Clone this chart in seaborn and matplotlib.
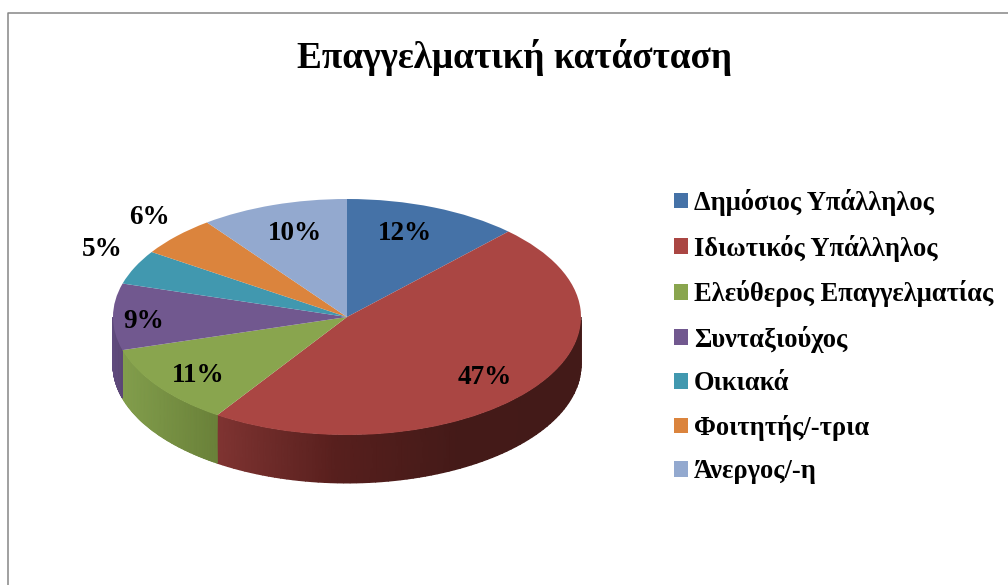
import matplotlib.pyplot as plt
import numpy as np
import seaborn as sns

sns.set_theme(style="white")
plt.rcParams['font.family'] = ['Liberation Serif', 'DejaVu Serif']

title = "Επαγγελματική κατάσταση"
categories = ["Δημόσιος Υπάλληλος", "Ιδιωτικός Υπάλληλος", "Ελεύθερος Επαγγελματίας",
              "Συνταξιούχος", "Οικιακά", "Φοιτητής/-τρια", "Άνεργος/-η"]
values = [12.1, 47.2, 11.1, 9.1, 4.7, 5.5, 10.2]
colors = ["#4572A7", "#AA4643", "#89A54E", "#71588F", "#4198AF", "#DB843D", "#93A9CF"]

# shades of the side wall from left to right, only the front slices show it
wall_shades = {1: ["#7f3432", "#571f1d", "#441a18", "#431a18"],
               2: ["#829e4c", "#6a8139"],
               3: ["#5f4a7d", "#5c4776"]}

# figure is laid out in pixels of the 1008x585 picture
W, H = 1008, 585
cx, cy, rx, ry, depth = 347, 317, 234, 118, 48


def px(x, y):
    return (x - cx) / rx, (cy - y) / ry


fig = plt.figure(figsize=(W / 100, H / 100), dpi=100)
ax = fig.add_axes([0, 0, 1, 1])

wedges, _ = ax.pie(values, colors=colors, startangle=90, counterclock=False,
                   radius=1, wedgeprops=dict(linewidth=0, zorder=3))
ax.set_aspect('auto')
ax.set_xlim(px(0, 0)[0], px(W, 0)[0])
ax.set_ylim(px(0, H)[1], px(0, 0)[1])

# side wall under the front half of the pie
edges = np.cumsum([0] + values) / sum(values) * 360
for i, (a, b) in enumerate(zip(edges[:-1], edges[1:])):
    if i not in wall_shades:
        continue
    a, b = max(a, 90), min(b, 270)
    t = np.radians(np.linspace(a, b, 80))
    x = np.sin(t)
    top = np.cos(t)
    X = np.vstack([x, x])
    Y = np.vstack([top, top - depth / ry])
    shade = (x - x.min()) / (x.max() - x.min())
    C = np.vstack([shade, shade])
    cmap = sns.blend_palette(wall_shades[i], as_cmap=True)
    ax.pcolormesh(X, Y, C, cmap=cmap, shading='gouraud', vmin=0, vmax=1, zorder=2)

# percent labels, placed like the original
label_pos = [(405, 234), (485, 378), (198, 376), (144, 321), (102, 249), (149, 217), (295, 234)]
for v, pos in zip(values, label_pos):
    ax.text(*px(*pos), f"{v:.0f}%", ha='center', va='center', fontsize=19.5,
            fontweight='bold', color='black', zorder=5)

ax.text(*px(514.5, 57), title, ha='center', va='center', fontsize=26.8,
        fontweight='bold', color='black')

leg = ax.legend(wedges, categories, loc='upper left', bbox_to_anchor=(674 / W, 1 - 189 / H),
                frameon=False, prop=dict(size=19.1, weight='bold'), labelcolor='black',
                labelspacing=0.7, handlelength=0.53, handleheight=0.53, handletextpad=0.22,
                borderaxespad=0, borderpad=0)

# chart frame, runs off the picture at right and bottom
frame_x = [px(7.5, 0)[0], px(7.5, 0)[0], px(W + 5, 0)[0]]
frame_y = [px(0, H + 5)[1], px(0, 12.5)[1], px(0, 12.5)[1]]
ax.plot(frame_x, frame_y, color="#868686", lw=1.1, zorder=1)

plt.savefig("out.png", dpi=100)
